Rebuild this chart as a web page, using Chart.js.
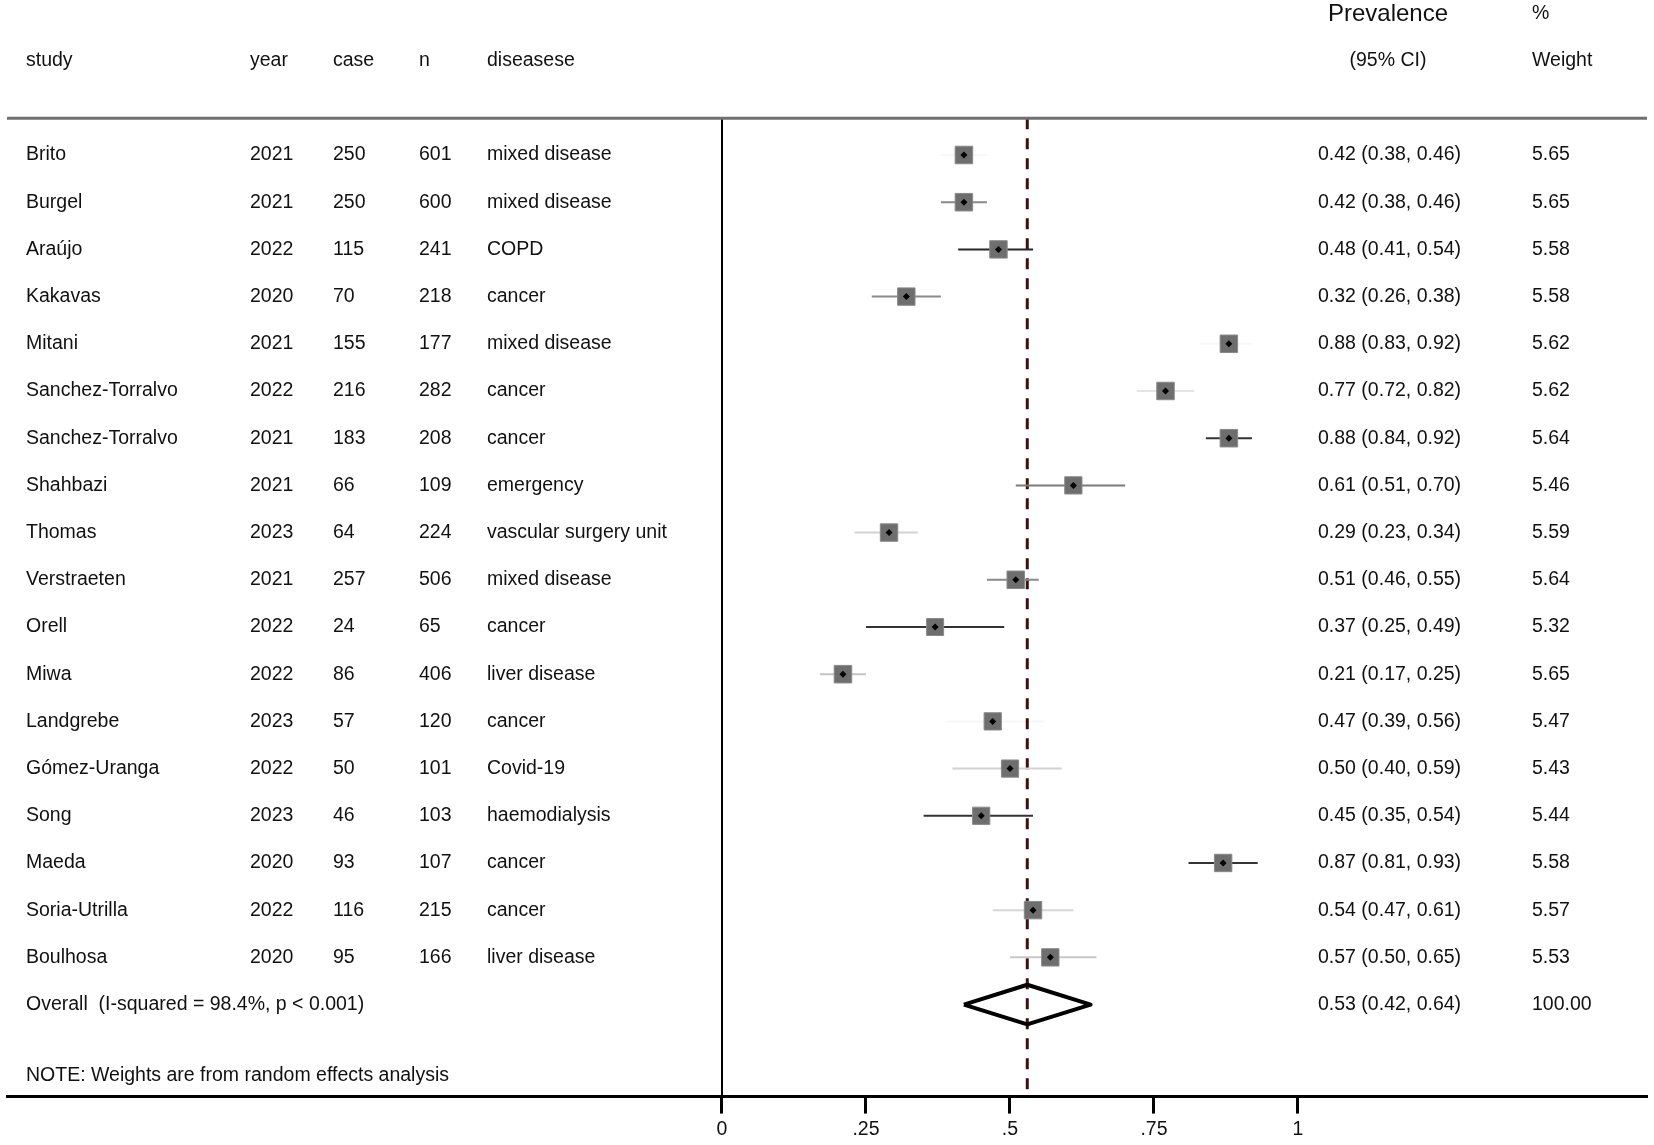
<!DOCTYPE html>
<html lang="en">
<head>
  <meta charset="UTF-8" />
  <title>Forest plot | Prevalence</title>
  <script src="https://cdn.jsdelivr.net/npm/chart.js"></script>
  <style>
    html, body { margin: 0; padding: 0; background: #fff; }
    canvas { display: block; }
  </style>
</head>
<body>
  <canvas id="forest" width="1654" height="1145"></canvas>

  <script>
    // table values
    const studies = ['Brito', 'Burgel', 'Araújo', 'Kakavas', 'Mitani', 'Sanchez-Torralvo', 'Sanchez-Torralvo', 'Shahbazi', 'Thomas',
      'Verstraeten', 'Orell', 'Miwa', 'Landgrebe', 'Gómez-Uranga', 'Song', 'Maeda', 'Soria-Utrilla', 'Boulhosa'];
    const years = [2021, 2021, 2022, 2020, 2021, 2022, 2021, 2021, 2023, 2021, 2022, 2022, 2023, 2022, 2023, 2020, 2022, 2020];
    const cases = [250, 250, 115, 70, 155, 216, 183, 66, 64, 257, 24, 86, 57, 50, 46, 93, 116, 95];
    const totals = [601, 600, 241, 218, 177, 282, 208, 109, 224, 506, 65, 406, 120, 101, 103, 107, 215, 166];
    const diseases = ['mixed disease', 'mixed disease', 'COPD', 'cancer', 'mixed disease', 'cancer', 'cancer', 'emergency',
      'vascular surgery unit', 'mixed disease', 'cancer', 'liver disease', 'cancer', 'Covid-19', 'haemodialysis', 'cancer', 'cancer', 'liver disease'];
    const estimates = [0.42, 0.42, 0.48, 0.32, 0.88, 0.77, 0.88, 0.61, 0.29, 0.51, 0.37, 0.21, 0.47, 0.50, 0.45, 0.87, 0.54, 0.57];
    const lower = [0.38, 0.38, 0.41, 0.26, 0.83, 0.72, 0.84, 0.51, 0.23, 0.46, 0.25, 0.17, 0.39, 0.40, 0.35, 0.81, 0.47, 0.50];
    const upper = [0.46, 0.46, 0.54, 0.38, 0.92, 0.82, 0.92, 0.70, 0.34, 0.55, 0.49, 0.25, 0.56, 0.59, 0.54, 0.93, 0.61, 0.65];
    const weights = [5.65, 5.65, 5.58, 5.58, 5.62, 5.62, 5.64, 5.46, 5.59, 5.64, 5.32, 5.65, 5.47, 5.43, 5.44, 5.58, 5.57, 5.53];

    const pooled = [0.53];
    const pooledCI = [0.42, 0.64];
    const pooledWeight = [100];
    const pooledLabel = 'Overall  (I-squared = 98.4%, p < 0.001)';
    const noteText = 'NOTE: Weights are from random effects analysis';

    const tickValues = [0, 0.25, 0.5, 0.75, 1];
    const tickLabels = ['0', '.25', '.5', '.75', '1'];

    // look of the CI whiskers (the scan renders them in different greys)
    const ciColors = ['rgba(0,0,0,0.03)', '#8a8a8a', '#262626', '#8a8a8a', 'rgba(0,0,0,0.03)', '#e4e4e4', '#333', '#7a7a7a', '#d2d2d2',
      '#8a8a8a', '#333', '#c4c4c4', 'rgba(0,0,0,0.03)', '#d2d2d2', '#333', '#333', '#d6d6d6', '#c8c8c8'];

    const FONT = '"Liberation Sans", Arial, sans-serif';
    const Y_MIN = -3.284, Y_MAX = 19.95;
    const RULE_ROW = -0.78;          // grey rule under the header
    const overallRow = studies.length;
    const rows = studies.map((_, i) => i);

    const fmt = v => v.toFixed(2);

    const datasets = [];

    // null line and pooled estimate line
    datasets.push({
      data: [{ x: 0, y: RULE_ROW }, { x: 0, y: Y_MAX }],
      showLine: true, borderColor: '#000', borderWidth: 2, pointRadius: 0, order: 6
    });
    datasets.push({
      data: [{ x: pooled[0], y: RULE_ROW }, { x: pooled[0], y: Y_MAX }],
      showLine: true, borderColor: '#3d0f0f', borderWidth: 3, borderDash: [11, 9], pointRadius: 0, order: 5
    });

    // whiskers
    rows.forEach(i => {
      datasets.push({
        data: [{ x: lower[i], y: i }, { x: upper[i], y: i }],
        showLine: true, borderColor: ciColors[i], borderWidth: 2, pointRadius: 0, order: 4
      });
    });

    // weight boxes
    datasets.push({
      data: rows.map(i => ({ x: estimates[i], y: i })),
      pointStyle: 'rect',
      pointRadius: ctx => 12.4 * Math.sqrt(weights[ctx.dataIndex] / 5.65),
      backgroundColor: '#6e6e6e', borderColor: '#8a8a8a', borderWidth: 1, order: 3
    });

    // point estimates
    datasets.push({
      data: rows.map(i => ({ x: estimates[i], y: i })),
      pointStyle: 'rectRot', pointRadius: 3.5, backgroundColor: '#000', borderColor: '#000', borderWidth: 0, order: 2
    });

    // pooled diamond
    const half = 0.42;
    datasets.push({
      data: [
        { x: pooledCI[0], y: overallRow },
        { x: pooled[0], y: overallRow - half },
        { x: pooledCI[1], y: overallRow },
        { x: pooled[0], y: overallRow + half },
        { x: pooledCI[0], y: overallRow }
      ],
      showLine: true, borderColor: '#000', borderWidth: 4, borderJoinStyle: 'round', pointRadius: 0, order: 1
    });

    const tableText = {
      id: 'tableText',
      afterDraw(chart) {
        const { ctx, chartArea } = chart;
        const y = chart.scales.y;
        ctx.save();
        ctx.fillStyle = '#111';
        ctx.textBaseline = 'middle';

        // header rule
        const ruleY = y.getPixelForValue(RULE_ROW);
        ctx.strokeStyle = '#707070';
        ctx.lineWidth = 3;
        ctx.beginPath();
        ctx.moveTo(chartArea.left, ruleY);
        ctx.lineTo(chartArea.right, ruleY);
        ctx.stroke();

        // headers
        const topY = y.getPixelForValue(-2.99);
        const headY = y.getPixelForValue(-2.01);
        ctx.font = '24px ' + FONT;
        ctx.textAlign = 'center';
        ctx.fillText('Prevalence', 1388, topY);
        ctx.font = '19.5px ' + FONT;
        ctx.fillText('(95% CI)', 1388, headY);
        ctx.textAlign = 'left';
        ctx.fillText('%', 1532, topY);
        ctx.fillText('Weight', 1532, headY);
        ctx.fillText('study', 26, headY);
        ctx.fillText('year', 250, headY);
        ctx.fillText('case', 333, headY);
        ctx.fillText('n', 419, headY);
        ctx.fillText('diseasese', 487, headY);

        // study rows
        rows.forEach(i => {
          const py = y.getPixelForValue(i);
          ctx.fillText(studies[i], 26, py);
          ctx.fillText(String(years[i]), 250, py);
          ctx.fillText(String(cases[i]), 333, py);
          ctx.fillText(String(totals[i]), 419, py);
          ctx.fillText(diseases[i], 487, py);
          ctx.fillText(`${fmt(estimates[i])} (${fmt(lower[i])}, ${fmt(upper[i])})`, 1318, py);
          ctx.fillText(fmt(weights[i]), 1532, py);
        });

        // overall row and note
        const oy = y.getPixelForValue(overallRow);
        ctx.fillText(pooledLabel, 26, oy);
        ctx.fillText(`${fmt(pooled[0])} (${fmt(pooledCI[0])}, ${fmt(pooledCI[1])})`, 1318, oy);
        ctx.fillText(fmt(pooledWeight[0]), 1532, oy);
        ctx.fillText(noteText, 26, y.getPixelForValue(19.5));
        ctx.restore();
      }
    };

    new Chart(document.getElementById('forest'), {
      type: 'scatter',
      data: { datasets },
      options: {
        responsive: false,
        animation: false,
        layout: { autoPadding: false, padding: { left: 7, right: 7, top: 0, bottom: 0 } },
        plugins: { legend: { display: false }, tooltip: { enabled: false } },
        scales: {
          x: {
            type: 'linear',
            min: -1.2413,
            max: 1.6059,
            afterBuildTicks: axis => { axis.ticks = tickValues.map(v => ({ value: v })); },
            ticks: {
              callback: (v, i) => tickLabels[i],
              autoSkip: false,
              maxRotation: 0,
              padding: 4,
              color: '#111',
              font: { family: FONT, size: 19.5 }
            },
            grid: { drawOnChartArea: false, drawTicks: true, tickLength: 17, tickWidth: 3, tickColor: '#000', color: '#000' },
            border: { display: true, color: '#000', width: 3 }
          },
          y: { type: 'linear', display: false, reverse: true, min: Y_MIN, max: Y_MAX }
        }
      },
      plugins: [tableText]
    });
  </script>
</body>
</html>
